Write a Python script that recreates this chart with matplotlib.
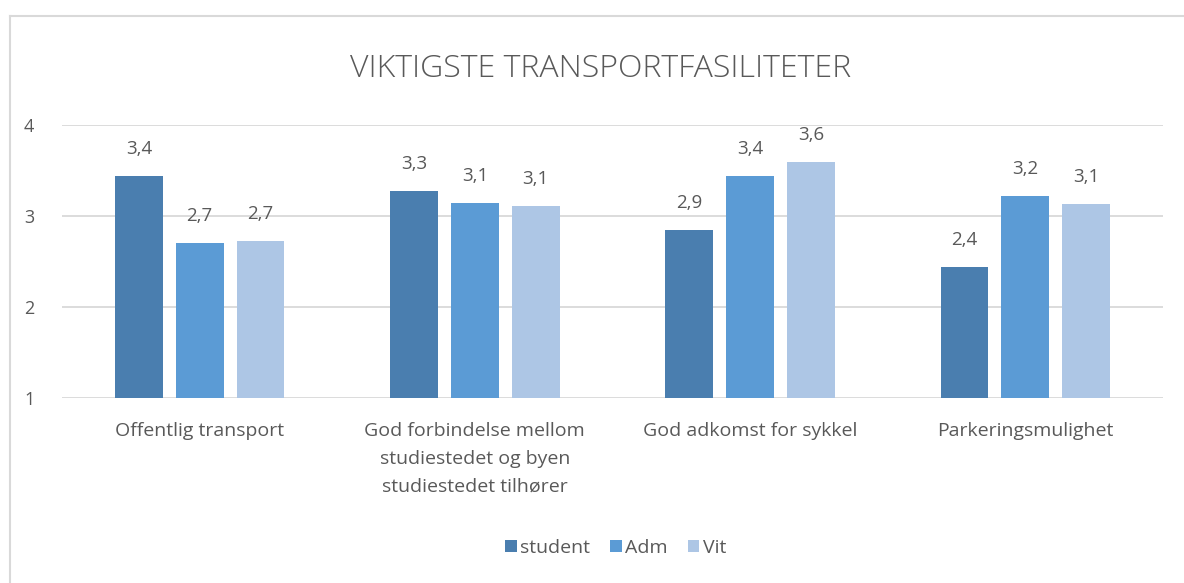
import numpy as np
import matplotlib.pyplot as plt
from matplotlib.lines import Line2D

categories = ['Offentlig transport',
              'God forbindelse mellom\nstudiestedet og byen\nstudiestedet tilhører',
              'God adkomst for sykkel',
              'Parkeringsmulighet']
series = ['student', 'Adm', 'Vit']
student = [3.44, 3.27, 2.85, 2.44]
adm = [2.70, 3.14, 3.44, 3.22]
vit = [2.73, 3.11, 3.59, 3.13]
colors = ['#4A7EAF', '#5B9BD5', '#ADC6E5']

plt.rcParams['font.family'] = ['Open Sans', 'DejaVu Sans']
text_color = '#595959'

fig = plt.figure(figsize=(11.84, 5.83), dpi=100)
ax = fig.add_axes([0.0524, 0.3173, 0.9298, 0.4683])

x = np.arange(len(categories))
width = 0.174
step = 0.221
for i, (name, vals) in enumerate(zip(series, [student, adm, vit])):
    bars = ax.bar(x + (i - 1) * step, np.array(vals) - 1, width, bottom=1,
                  color=colors[i], label=name, zorder=3)
    ax.bar_label(bars, labels=[f'{v:.1f}'.replace('.', ',') for v in vals],
                 padding=13, fontsize=13.5, color=text_color)

ax.set_xlim(-0.5, 3.5)
ax.set_ylim(1, 4)
ax.set_yticks([1, 2, 3, 4])
ax.set_xticks(x)
ax.set_xticklabels(categories, fontsize=14, color=text_color, linespacing=1.72)
ax.tick_params(axis='both', length=0, labelcolor=text_color)
ax.tick_params(axis='y', pad=20, labelsize=13)
ax.tick_params(axis='x', pad=17)
ax.grid(axis='y', color='#D9D9D9', linewidth=1.3, zorder=0)
for s in ax.spines.values():
    s.set_visible(False)

fig.text(0.507, 0.881, 'VIKTIGSTE TRANSPORTFASILITETER', ha='center', va='center',
         fontsize=23, color=text_color, fontweight='light')

leg = fig.legend(loc='center', bbox_to_anchor=(0.52, 0.06), ncol=3, frameon=False,
                 fontsize=14, handlelength=0.6, handleheight=0.6,
                 handletextpad=0.2, columnspacing=1.0)
for t in leg.get_texts():
    t.set_color(text_color)

# chart frame (only left and top edges are visible)
fx = 9.5 / 1184
fy = 1 - 15.5 / 583
fig.add_artist(Line2D([fx, fx], [0, fy], transform=fig.transFigure, color='#D9D9D9', lw=1.5))
fig.add_artist(Line2D([fx, 1], [fy, fy], transform=fig.transFigure, color='#D9D9D9', lw=1.5))

fig.savefig('out.png', dpi=100)
